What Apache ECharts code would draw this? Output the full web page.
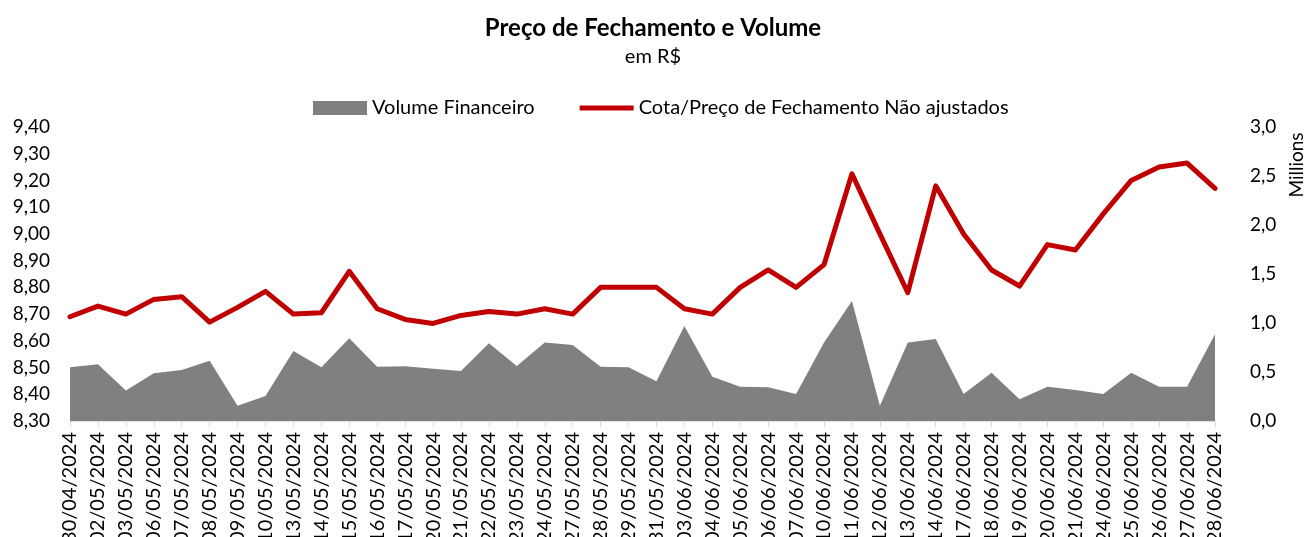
<!DOCTYPE html>
<html>
<head>
<meta charset="utf-8">
<script src="https://cdn.jsdelivr.net/npm/echarts@6/dist/echarts.min.js"></script>
<style>
  html, body { margin: 0; padding: 0; background: #fff; }
  #chart { width: 1306px; height: 537px; }
</style>
</head>
<body>
<div id="chart"></div>
<script>
// datas do pregão
const dates = [
  '30/04/2024', '02/05/2024', '03/05/2024', '06/05/2024', '07/05/2024', '08/05/2024',
  '09/05/2024', '10/05/2024', '13/05/2024', '14/05/2024', '15/05/2024', '16/05/2024',
  '17/05/2024', '20/05/2024', '21/05/2024', '22/05/2024', '23/05/2024', '24/05/2024',
  '27/05/2024', '28/05/2024', '29/05/2024', '31/05/2024', '03/06/2024', '04/06/2024',
  '05/06/2024', '06/06/2024', '07/06/2024', '10/06/2024', '11/06/2024', '12/06/2024',
  '13/06/2024', '14/06/2024', '17/06/2024', '18/06/2024', '19/06/2024', '20/06/2024',
  '21/06/2024', '24/06/2024', '25/06/2024', '26/06/2024', '27/06/2024', '28/06/2024'
]

// cota / preço de fechamento (R$)
const precoFechamento = [
  8.69, 8.73, 8.70, 8.755, 8.765, 8.67,
  8.725, 8.785, 8.70, 8.705, 8.86, 8.72,
  8.68, 8.665, 8.695, 8.71, 8.70, 8.72,
  8.70, 8.80, 8.80, 8.80, 8.72, 8.70,
  8.80, 8.865, 8.80, 8.885, 9.225, 9.00,
  8.78, 9.18, 9.00, 8.865, 8.805, 8.96,
  8.94, 9.075, 9.20, 9.25, 9.265, 9.17
]

// volume financeiro (R$)
const volumeFinanceiro = [
  548000, 579000, 310000, 487000, 520000, 615000,
  156000, 255000, 714000, 548000, 844000, 554000,
  558000, 534000, 510000, 793000, 561000, 800000,
  776000, 554000, 548000, 405000, 969000, 452000,
  350000, 344000, 276000, 800000, 1224000, 156000,
  800000, 837000, 276000, 493000, 221000, 350000,
  316000, 276000, 493000, 350000, 350000, 885000
]

const chartDom = document.getElementById('chart')
const chat = echarts.init(chartDom)

const fonte = 'Lato, "Open Sans", sans-serif'

chat.setOption({
  animation: false,
  textStyle: { fontFamily: fonte, color: '#000' },
  title: {
    text: 'Preço de Fechamento e Volume',
    subtext: 'em R$',
    left: 'center',
    top: 11,
    itemGap: 7,
    textStyle: { fontFamily: fonte, fontSize: 24, fontWeight: 'bold', color: '#000' },
    subtextStyle: { fontFamily: fonte, fontSize: 20, color: '#000' }
  },
  legend: {
    top: 93,
    left: 308,
    itemWidth: 54,
    itemHeight: 14,
    itemGap: 45,
    textStyle: { fontFamily: fonte, fontSize: 20, color: '#000' },
    data: [
      { name: 'Volume Financeiro', icon: 'rect' },
      // traço fino, sem marcador
      { name: 'Cota/Preço de Fechamento Não ajustados', icon: 'path://M0,0 M0,14 M0,4.5 L54,4.5 L54,9.5 L0,9.5 Z' }
    ]
  },
  grid: {
    top: 127,
    bottom: 116,
    left: 70,
    right: 91,
    outerBoundsMode: 'none'
  },
  xAxis: {
    type: 'category',
    data: dates,
    boundaryGap: false,
    axisLine: { lineStyle: { color: '#d9d9d9', width: 1.5 } },
    axisTick: { show: true, alignWithLabel: true, length: 6, lineStyle: { color: '#d9d9d9' } },
    axisLabel: {
      interval: 0,
      rotate: 90,
      margin: 11,
      fontSize: 20,
      color: '#000',
      fontFamily: fonte
    },
    splitLine: { show: false }
  },
  yAxis: [
    {
      type: 'value',
      min: 8.3,
      max: 9.4,
      interval: 0.1,
      axisLine: { show: false },
      axisTick: { show: false },
      splitLine: { show: false },
      axisLabel: {
        margin: 20,
        fontSize: 19,
        color: '#000',
        fontFamily: fonte,
        formatter: v => v.toFixed(2).replace('.', ',')
      }
    },
    {
      type: 'value',
      min: 0,
      max: 3000000,
      interval: 500000,
      axisLine: { show: false },
      axisTick: { show: false },
      splitLine: { show: false },
      axisLabel: {
        margin: 35,
        fontSize: 19,
        color: '#000',
        fontFamily: fonte,
        formatter: v => (v / 1000000).toFixed(1).replace('.', ',')
      }
    }
  ],
  graphic: [
    {
      type: 'text',
      x: 1297,
      y: 165,
      rotation: Math.PI / 2,
      style: {
        text: 'Millions',
        fontSize: 19,
        fontFamily: fonte,
        fill: '#000',
        align: 'center',
        verticalAlign: 'middle'
      }
    }
  ],
  series: [
    {
      name: 'Volume Financeiro',
      type: 'line',
      yAxisIndex: 1,
      data: volumeFinanceiro,
      symbol: 'none',
      lineStyle: { width: 0, color: '#808080' },
      itemStyle: { color: '#808080' },
      areaStyle: { color: '#808080', opacity: 1 },
      z: 1
    },
    {
      name: 'Cota/Preço de Fechamento Não ajustados',
      type: 'line',
      yAxisIndex: 0,
      data: precoFechamento,
      symbol: 'none',
      lineStyle: { width: 5, color: '#c00000', join: 'round', cap: 'round' },
      itemStyle: { color: '#c00000' },
      z: 3
    }
  ]
})
</script>
</body>
</html>
